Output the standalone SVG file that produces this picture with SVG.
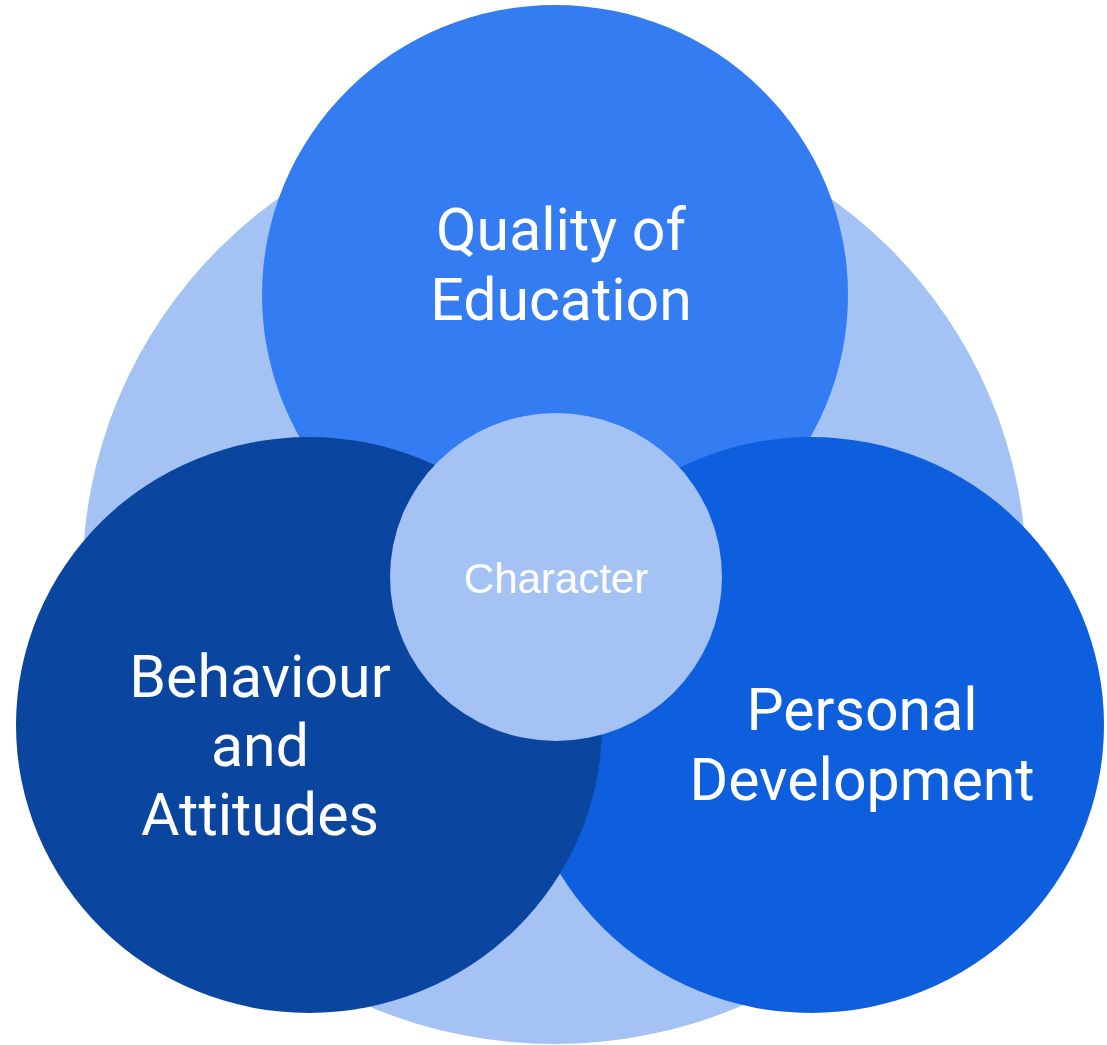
<svg xmlns="http://www.w3.org/2000/svg" width="1107" height="1045" viewBox="0 0 1107 1045">
<style>
.lbl{font-family:Roboto,"Liberation Sans",sans-serif;font-size:59px;fill:#ffffff;text-anchor:middle}
.ctr{font-family:"Liberation Sans",Arial,sans-serif;font-size:42px;fill:#ffffff;text-anchor:middle}
</style>
<rect width="1107" height="1045" fill="#ffffff"/>
<g id="background"><ellipse cx="554.5" cy="577" rx="472" ry="467" fill="#a4c2f4"/></g>
<g id="quality"><ellipse cx="555" cy="295" rx="293" ry="290" fill="#337cf2"/>
<text class="lbl" x="561" y="250">Quality of</text><text class="lbl" x="561" y="320">Education</text></g>
<g id="personal"><ellipse cx="811" cy="725" rx="293" ry="288" fill="#0e5fdd"/>
<text class="lbl" x="862" y="730">Personal</text><text class="lbl" x="862" y="800">Development</text></g>
<g id="behaviour"><ellipse cx="309" cy="725" rx="293" ry="288" fill="#0a45a0"/>
<text class="lbl" x="260" y="697">Behaviour</text><text class="lbl" x="260" y="766">and</text><text class="lbl" x="260" y="835">Attitudes</text></g>
<g id="character"><ellipse cx="556" cy="577" rx="166" ry="164" fill="#a4c2f4"/>
<text class="ctr" x="556" y="593">Character</text></g>
<g id="connectors"/>
</svg>
